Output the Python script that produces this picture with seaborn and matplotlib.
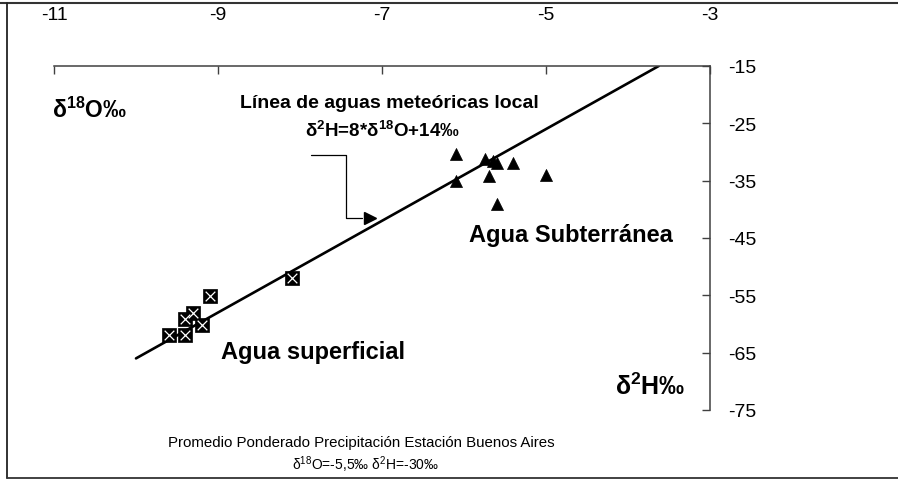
import matplotlib
matplotlib.use('Agg')
import matplotlib.pyplot as plt
from matplotlib.lines import Line2D
import seaborn as sns

# ---- data ----
sup_x = [-8.1, -9.1, -9.3, -9.4, -9.2, -9.6, -9.4]
sup_y = [-52.0, -55.1, -58.0, -59.1, -60.1, -62.0, -62.0]
sub_x = [-6.1, -5.75, -5.65, -5.6, -5.4, -5.7, -5.0, -6.1, -5.6]
sub_y = [-30.3, -31.2, -31.6, -32.0, -31.9, -34.1, -34.0, -35.0, -39.1]
lmwl_x = [-10.0, -3.625]
lmwl_y = [-66.0, -15.0]
arrow_x = [-7.87, -7.44, -7.44, -7.15]
arrow_y = [-30.5, -30.5, -41.5, -41.5]
x_ticks = [-11, -9, -7, -5, -3]
y_ticks = [-15, -25, -35, -45, -55, -65, -75]

sns.set_theme(style='white')
plt.rcParams['font.family'] = ['Liberation Sans', 'DejaVu Sans']
plt.rcParams['text.color'] = 'black'
plt.rcParams['mathtext.fontset'] = 'custom'
plt.rcParams['mathtext.rm'] = 'Liberation Sans'
plt.rcParams['mathtext.bf'] = 'Liberation Sans:bold'
plt.rcParams['mathtext.it'] = 'Liberation Sans:italic'
plt.rcParams['axes.unicode_minus'] = False

W, H = 898, 481
fig = plt.figure(figsize=(W / 100, H / 100), dpi=100)
fig.patch.set_facecolor('white')

def P(x, y):
    return (x / W, 1 - y / H)

ax = fig.add_axes([54 / W, 1 - 411 / H, 656 / W, 344 / H])
ax.set_facecolor('none')

sns.lineplot(x=lmwl_x, y=lmwl_y, color='black', lw=1.9, ax=ax)
sns.scatterplot(x=sup_x, y=sup_y, marker='s', s=110, color='black',
                edgecolor='black', linewidth=0.5, ax=ax, zorder=3)
sns.scatterplot(x=sup_x, y=sup_y, marker='x', s=48, color='white',
                linewidth=0.9, ax=ax, zorder=4)
sns.scatterplot(x=sub_x, y=sub_y, marker='^', s=75, color='black',
                edgecolor='black', linewidth=0.5, ax=ax, zorder=3)

# arrow pointing to the line
ax.plot(arrow_x[:-1] + [arrow_x[-1] - 0.1], arrow_y, color='black', lw=0.9)
ax.plot([arrow_x[-1]], [arrow_y[-1]], marker='>', ms=9, color='black')

ax.set_xlim(-11, -3)
ax.set_ylim(-75, -15)
ax.set_xticks(x_ticks)
ax.set_xticklabels([str(v) for v in x_ticks])
ax.set_yticks(y_ticks)
ax.set_yticklabels([str(v) for v in y_ticks])
ax.xaxis.tick_top()
ax.yaxis.tick_right()
ax.tick_params(axis='x', direction='in', length=6, width=1, pad=31,
               labelsize=14, colors='#404040', labelcolor='black')
ax.tick_params(axis='y', direction='in', length=6, width=1, pad=13,
               labelsize=14, colors='#404040', labelcolor='black')
for s in ['left', 'bottom']:
    ax.spines[s].set_visible(False)
for s in ['top', 'right']:
    ax.spines[s].set_visible(True)
    ax.spines[s].set_color('#404040')
    ax.spines[s].set_linewidth(1.1)
ax.set_xlabel('')
ax.set_ylabel('')

# figure frame (top, left, bottom)
fig.add_artist(Line2D([0, 1], [1 - 4 / H, 1 - 4 / H], color='#333333', lw=1.5))
fig.add_artist(Line2D([7 / W, 7 / W], [1 - 4 / H, 1 - 479 / H], color='#222222', lw=1.3))
fig.add_artist(Line2D([7 / W, 1], [1 - 479 / H, 1 - 479 / H], color='#333333', lw=1.3))

# texts
fig.text(*P(52, 110), r'δ$^{\mathbf{18}}$O‰', fontsize=16.5, fontweight='bold',
         ha='left', va='center')
fig.text(*P(240, 103), 'Línea de aguas meteóricas local', fontsize=14,
         fontweight='bold', ha='left', va='center')
fig.text(*P(305, 131), r'δ$^{\mathbf{2}}$H=8*δ$^{\mathbf{18}}$O+14‰', fontsize=13.5,
         fontweight='bold', ha='left', va='center')
fig.text(*P(469, 236), 'Agua Subterránea', fontsize=17, fontweight='bold',
         ha='left', va='center')
fig.text(*P(221, 352), 'Agua superficial', fontsize=17, fontweight='bold',
         ha='left', va='center')
fig.text(*P(615, 387), r'δ$^{\mathbf{2}}$H‰', fontsize=18, fontweight='bold',
         ha='left', va='center')
fig.text(*P(361, 443), 'Promedio Ponderado Precipitación Estación Buenos Aires',
         fontsize=10.8, ha='center', va='center')
fig.text(*P(365, 465), r'δ$^{18}$O=-5,5‰ δ$^{2}$H=-30‰', fontsize=10,
         ha='center', va='center')

fig.savefig('out.png', dpi=100)
